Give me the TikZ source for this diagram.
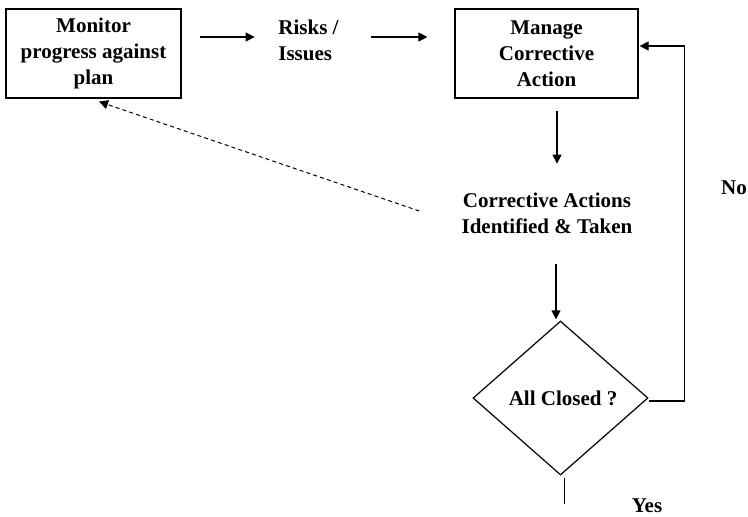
\documentclass[tikz,border=0pt]{standalone}
\usepackage{fontspec}
\setmainfont{Liberation Serif}
\usetikzlibrary{shapes.geometric,arrows.meta}
\begin{document}
\begin{tikzpicture}[x=0.5pt,y=-0.5pt,
  every node/.style={font=\bfseries\fontsize{10.5}{13}\selectfont, text=black},
  box/.style={draw, line width=0.6pt, minimum width=87.5pt, minimum height=44.5pt, align=center, inner sep=2pt},
  lbl/.style={align=center, inner sep=0pt},
  dec/.style={draw, diamond, line width=0.6pt, minimum width=87.5pt, minimum height=77pt, inner sep=0pt},
  arr/.style={line width=0.6pt, -{Triangle[length=4.5pt,width=4.5pt]}},
  dsh/.style={line width=0.5pt, dash pattern=on 2pt off 1.6pt, -{Triangle[length=4.5pt,width=4.5pt]}}]
\useasboundingbox (0,0) rectangle (748,516);
\node[box] (mon) at (93.5,53.5) {Monitor\\progress against\\plan};
\node[lbl, align=left, anchor=west] (risks) at (278,40) {Risks /\\Issues};
\node[box, minimum width=91.5pt] (man) at (546.5,53.5) {Manage\\Corrective\\Action};
\node[lbl] (cai) at (547,213) {Corrective Actions\\Identified \& Taken};
\node[dec] (dia) at (560.5,398) {};
\node[lbl] (allc) at (563,398) {All Closed ?};
\node[lbl] (yes) at (647,506) {Yes};
\node[lbl] (no) at (734,188) {No};
\draw[arr] (mon.east) ++(18,-16.5) -- ++(55,0);
\draw[arr] (man.west) ++(-83,-16.5) -- ++(56,0);
\draw[arr] (man.south) ++(10.5,12) -- ++(0,53);
\draw[arr] (dia.north) ++(-4.5,-56) -- ++(0,55);
\draw[arr] (dia.east) ++(0,3) -- ++(36,0) |- ([shift={(1,-7.5)}]man.east);
\draw[line width=0.6pt] (dia.south) ++(4,2) -- ++(0,26);
\draw[dsh] (cai.west) ++(-42,-2) -- ([shift={(5.5,3)}]mon.south);
\end{tikzpicture}
\end{document}
